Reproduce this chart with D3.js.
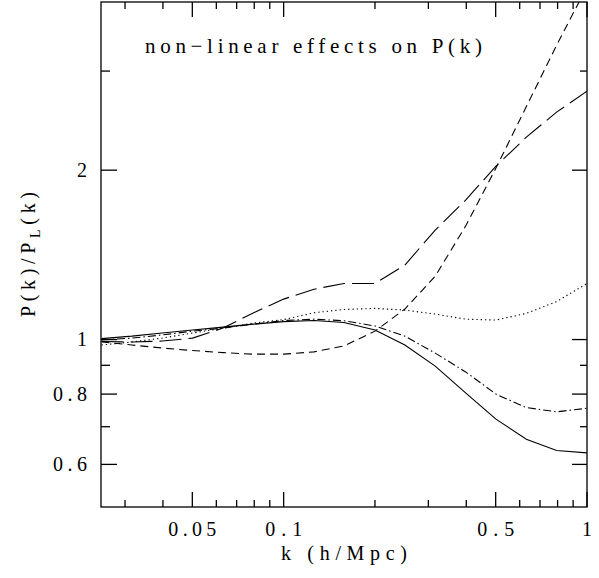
<!DOCTYPE html>
<html>
<head>
<meta charset="utf-8">
<script src="https://cdn.jsdelivr.net/npm/d3@7"></script>
<style>
  body { margin: 0; background: #fff; }
  svg { display: block; }
  text { font-family: "Liberation Serif", "DejaVu Serif", serif; fill: #000; }
</style>
</head>
<body>
<svg id="chart" width="599" height="578"></svg>
<script>
// ── Data ────────────────────────────────────────────────────────
const kValues   = [0.0251, 0.0316, 0.0398, 0.0501, 0.0631, 0.0794, 0.1, 0.126, 0.158,
                   0.2, 0.251, 0.316, 0.398, 0.501, 0.631, 0.794, 1.0];
const solid     = [1.004, 1.014, 1.027, 1.040, 1.052, 1.065, 1.076, 1.081, 1.072,
                   1.040, 0.978, 0.897, 0.804, 0.722, 0.665, 0.635, 0.629];
const dotDash   = [0.998, 1.006, 1.019, 1.035, 1.048, 1.065, 1.081, 1.087, 1.080,
                   1.057, 1.014, 0.946, 0.876, 0.800, 0.757, 0.744, 0.755];
const dotted    = [0.978, 0.990, 1.006, 1.027, 1.048, 1.070, 1.085, 1.116, 1.131,
                   1.136, 1.128, 1.110, 1.087, 1.083, 1.113, 1.168, 1.258];
const shortDash = [0.990, 0.978, 0.966, 0.956, 0.948, 0.942, 0.942, 0.951, 0.974,
                   1.035, 1.133, 1.296, 1.591, 2.017, 2.594, 3.335, 4.239];
const longDash  = [0.992, 0.990, 0.994, 1.006, 1.048, 1.115, 1.180, 1.229, 1.258,
                   1.258, 1.356, 1.565, 1.769, 2.033, 2.289, 2.536, 2.764];

const xMajorTicks = [0.05, 0.1, 0.5, 1];
const xTickLabels = ['0.05', '0.1', '0.5', '1'];
const xMinorTicks = [0.03, 0.04, 0.06, 0.07, 0.08, 0.09, 0.2, 0.3, 0.4, 0.6, 0.7, 0.8, 0.9];
const yMajorTicks = [0.6, 0.8, 1, 2];
const yTickLabels = ['0.6', '0.8', '1', '2'];
const yMinorTicks = [0.7, 0.9, 3];

const titleText  = 'non\u2212linear effects on P(k)';
const xAxisLabel = 'k (h/Mpc)';

// ── Layout ──────────────────────────────────────────────────────
const box = { left: 101, right: 587, top: 2, bottom: 507 };
const fontSize = 20;
const digitWidth = 11;   // width per character of the stroked tick numbers

const svg = d3.select('#chart');

const x = d3.scaleLog().domain([0.025, 1]).range([box.left, box.right]);
const y = d3.scaleLog().domain([0.504, 3.98]).range([box.bottom, box.top]);

svg.append('defs').append('clipPath').attr('id', 'plot-clip')
  .append('rect')
  .attr('x', box.left).attr('y', box.top)
  .attr('width', box.right - box.left).attr('height', box.bottom - box.top);

// ── Curves ──────────────────────────────────────────────────────
const series = [
  { values: solid,     dash: null },
  { values: dotDash,   dash: '8,3,1.5,3' },
  { values: dotted,    dash: '1.3,3' },
  { values: shortDash, dash: '8,5' },
  { values: longDash,  dash: '22,7' },
];

const line = d3.line()
  .x(d => x(d[0]))
  .y(d => y(d[1]));

const curves = svg.append('g').attr('clip-path', 'url(#plot-clip)');
series.forEach(s => {
  curves.append('path')
    .datum(kValues.map((k, i) => [k, s.values[i]]))
    .attr('d', line)
    .attr('fill', 'none')
    .attr('stroke', '#000')
    .attr('stroke-width', 1.1)
    .attr('stroke-dasharray', s.dash);
});

// ── Frame and ticks ─────────────────────────────────────────────
const frame = svg.append('g').attr('stroke', '#000').attr('stroke-width', 1.3);

frame.append('rect')
  .attr('x', box.left).attr('y', box.top)
  .attr('width', box.right - box.left).attr('height', box.bottom - box.top)
  .attr('fill', 'none');

function xTicks(values, len) {
  values.forEach(v => {
    frame.append('line').attr('x1', x(v)).attr('x2', x(v)).attr('y1', box.bottom).attr('y2', box.bottom - len);
    frame.append('line').attr('x1', x(v)).attr('x2', x(v)).attr('y1', box.top).attr('y2', box.top + len);
  });
}
function yTicks(values, lenL, lenR) {
  values.forEach(v => {
    frame.append('line').attr('y1', y(v)).attr('y2', y(v)).attr('x1', box.left).attr('x2', box.left + lenL);
    frame.append('line').attr('y1', y(v)).attr('y2', y(v)).attr('x1', box.right).attr('x2', box.right - lenR);
  });
}
xTicks(xMajorTicks, 15);
xTicks(xMinorTicks, 7);
yTicks(yMajorTicks, 16, 15);
yTicks(yMinorTicks, 9, 7);

// ── Labels ──────────────────────────────────────────────────────
// stretch multi-character labels to the wide spacing of the original font
function stretch(sel, w) {
  sel.each(function () {
    const t = d3.select(this);
    const n = t.text().length;
    if (n > 1) t.attr('textLength', w(n)).attr('lengthAdjust', 'spacing');
  });
}

svg.append('g').selectAll('text')
  .data(xMajorTicks)
  .join('text')
  .attr('x', d => x(d))
  .attr('y', 536)
  .attr('text-anchor', 'middle')
  .attr('font-size', fontSize)
  .text((d, i) => xTickLabels[i])
  .call(stretch, n => n * digitWidth + 4);

svg.append('g').selectAll('text')
  .data(yMajorTicks)
  .join('text')
  .attr('x', 87)
  .attr('y', d => y(d))
  .attr('dy', '0.34em')
  .attr('text-anchor', 'end')
  .attr('font-size', fontSize)
  .text((d, i) => yTickLabels[i])
  .call(stretch, n => n * digitWidth + 1);

svg.append('text')
  .attr('x', 145)
  .attr('y', 53)
  .attr('font-size', fontSize + 1)
  .attr('textLength', 337)
  .attr('lengthAdjust', 'spacing')
  .text(titleText);

svg.append('text')
  .attr('x', (box.left + box.right) / 2)
  .attr('y', 560)
  .attr('text-anchor', 'middle')
  .attr('font-size', fontSize)
  .attr('textLength', 126)
  .attr('lengthAdjust', 'spacing')
  .text(xAxisLabel);

const yLab = svg.append('text')
  .attr('transform', `translate(35,${(box.top + box.bottom) / 2}) rotate(-90)`)
  .attr('text-anchor', 'middle')
  .attr('font-size', fontSize)
  .attr('textLength', 125)
  .attr('lengthAdjust', 'spacing');
yLab.append('tspan').text('P(k)/P');
yLab.append('tspan').attr('dy', 5).attr('font-size', 14).text('L');
yLab.append('tspan').attr('dy', -5).text('(k)');
</script>
</body>
</html>
